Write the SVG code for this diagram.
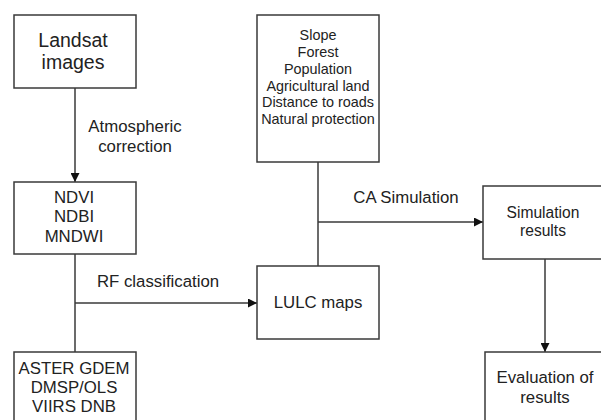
<svg xmlns="http://www.w3.org/2000/svg" width="601" height="420" viewBox="0 0 601 420">
<defs>
<style>
.box{fill:#fff;stroke:#3a3a3a;stroke-width:1.5}
.ln{fill:none;stroke:#3a3a3a;stroke-width:1.5}
text{font-family:"Liberation Sans",Arial,sans-serif;fill:#222;text-anchor:middle}
.f17{font-size:16.8px}
.f15{font-size:14.4px}
.f19{font-size:19.5px}
</style>
<marker id="ah" viewBox="0 0 10 10" refX="10" refY="5" markerWidth="9" markerHeight="9" markerUnits="userSpaceOnUse" orient="auto">
<path d="M0,0 L10,5 L0,10 z" fill="#111"/>
</marker>
</defs>
<rect width="601" height="420" fill="#fff"/>
<g id="connectors">
<line class="ln" x1="75" y1="88" x2="75" y2="182" marker-end="url(#ah)"/>
<line class="ln" x1="75" y1="254" x2="75" y2="352"/>
<line class="ln" x1="75" y1="303" x2="257" y2="303" marker-end="url(#ah)"/>
<line class="ln" x1="318" y1="162" x2="318" y2="266"/>
<line class="ln" x1="318" y1="222" x2="483" y2="222" marker-end="url(#ah)"/>
<line class="ln" x1="545" y1="259" x2="545" y2="352" marker-end="url(#ah)"/>
<text class="f17" x="135" y="132">Atmospheric</text>
<text class="f17" x="135" y="152">correction</text>
<text class="f17" x="158" y="287">RF classification</text>
<text class="f17" x="406" y="203">CA Simulation</text>
</g>
<g id="landsat">
<rect class="box" x="14" y="15" width="122" height="73"/>
<text class="f19" x="73" y="47">Landsat</text>
<text class="f19" x="73" y="69">images</text>
</g>
<g id="indices">
<rect class="box" x="14" y="182" width="122" height="72"/>
<text class="f17" x="74" y="203">NDVI</text>
<text class="f17" x="74" y="222">NDBI</text>
<text class="f17" x="74" y="242">MNDWI</text>
</g>
<g id="aster">
<rect class="box" x="14" y="352" width="122" height="80"/>
<text class="f17" x="74" y="374">ASTER GDEM</text>
<text class="f17" x="74" y="393">DMSP/OLS</text>
<text class="f17" x="74" y="412">VIIRS DNB</text>
</g>
<g id="factors">
<rect class="box" x="257" y="15" width="122" height="147"/>
<text class="f15" x="318" y="40">Slope</text>
<text class="f15" x="318" y="57">Forest</text>
<text class="f15" x="318" y="74">Population</text>
<text class="f15" x="318" y="91">Agricultural land</text>
<text class="f15" x="318" y="107">Distance to roads</text>
<text class="f15" x="318" y="124">Natural protection</text>
</g>
<g id="lulc">
<rect class="box" x="257" y="266" width="122" height="73"/>
<text class="f17" x="318" y="308">LULC maps</text>
</g>
<g id="simulation">
<rect class="box" x="483" y="186" width="130" height="73"/>
<text class="f17" x="543" y="218" style="font-size:15.6px">Simulation</text>
<text class="f17" x="543" y="236" style="font-size:15.6px">results</text>
</g>
<g id="evaluation">
<rect class="box" x="485" y="352" width="130" height="80"/>
<text class="f17" x="545" y="383">Evaluation of</text>
<text class="f17" x="545" y="403">results</text>
</g>
</svg>
